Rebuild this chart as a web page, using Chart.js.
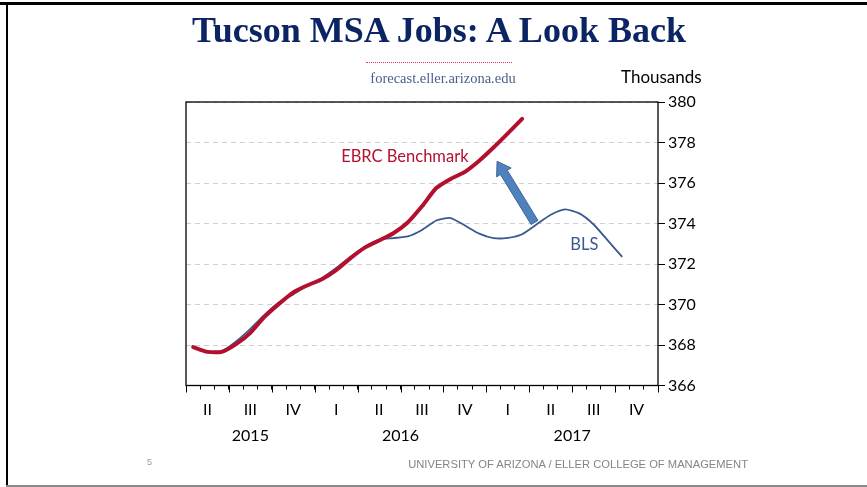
<!DOCTYPE html>
<html>
<head>
<meta charset="utf-8">
<script src="https://cdn.jsdelivr.net/npm/chart.js@4.4.1/dist/chart.umd.min.js"></script>
<style>
  html, body { margin:0; padding:0; background:#fff; }
  body { width:867px; height:487px; position:relative; overflow:hidden; }
  #c { position:absolute; left:0; top:0; }
  .abs { position:absolute; white-space:nowrap; }
  #title { left:0; width:878px; top:10px; text-align:center; font-family:"Liberation Serif","Times New Roman",serif; font-weight:bold; font-size:36px; line-height:40px; color:#0B2464; }
  #dots { left:366px; top:62px; width:146px; height:0; border-top:1px dotted #D0404F; }
  #sub { left:343px; width:200px; top:69px; text-align:center; font-family:"Liberation Serif",serif; font-size:14.5px; line-height:18px; color:#4B5F8A; }
  #units { left:621px; top:67px; font-family:Lato,"Open Sans",sans-serif; font-size:17px; line-height:20px; color:#000; }
  #pg { left:147px; top:457px; font-family:"Liberation Sans",Arial,sans-serif; font-size:9px; color:#9a9a9a; }
  #foot { right:119px; top:458px; font-family:"Liberation Sans",Arial,sans-serif; font-size:11.2px; color:#858585; }
  #bt { left:0; top:2px; width:867px; height:3px; background:#000; }
  #bl { left:6px; top:2px; width:2px; height:485px; background:#000; }
  #bb { left:6px; top:485px; width:861px; height:2px; background:#8a8a8a; }
</style>
</head>
<body>
<canvas id="c" width="867" height="487"></canvas>
<div class="abs" id="bt"></div>
<div class="abs" id="bl"></div>
<div class="abs" id="bb"></div>
<div class="abs" id="title">Tucson MSA Jobs: A Look Back</div>
<div class="abs" id="dots"></div>
<div class="abs" id="sub">forecast.eller.arizona.edu</div>
<div class="abs" id="units">Thousands</div>
<div class="abs" id="pg">5</div>
<div class="abs" id="foot">UNIVERSITY OF ARIZONA / ELLER COLLEGE OF MANAGEMENT</div>
<script>
// ---- data ----
const months = [
  'Apr 2015','May 2015','Jun 2015','Jul 2015','Aug 2015','Sep 2015','Oct 2015','Nov 2015','Dec 2015',
  'Jan 2016','Feb 2016','Mar 2016','Apr 2016','May 2016','Jun 2016','Jul 2016','Aug 2016','Sep 2016','Oct 2016','Nov 2016','Dec 2016',
  'Jan 2017','Feb 2017','Mar 2017','Apr 2017','May 2017','Jun 2017','Jul 2017','Aug 2017','Sep 2017','Oct 2017','Nov 2017','Dec 2017'
];
const quarterTicks = ['II','III','IV','I','II','III','IV','I','II','III','IV'];
const yearLabels = ['2015','2016','2017'];
const yearStartIdx = [0, 9, 21];
const ebrc = [367.90,367.66,367.66,368.04,368.60,369.40,370.03,370.60,370.95,371.25,371.70,372.29,
              372.81,373.16,373.52,374.05,374.85,375.75,376.20,376.55,377.10,377.75,378.45,379.17];
const bls  = [367.92,367.68,367.70,368.18,368.80,369.50,370.10,370.50,370.95,371.30,371.80,372.35,
              372.85,373.20,373.28,373.36,373.68,374.15,374.27,373.90,373.50,373.28,373.29,373.47,
              373.95,374.43,374.70,374.50,373.95,373.15,372.35];
const yMin = 366, yMax = 380, yStep = 2;
// annotations (data space)
const arrowTail = [23.87, 374.05];
const arrowTip  = [21.25, 377.07];
const notes = [
  {text:'EBRC Benchmark', at:[14.8, 377.3], color:'#B5102E'},
  {text:'BLS', at:[27.35, 372.95], color:'#3A5890'}
];

const RED = '#B3102D', BLUE = '#3A5890';
const sansFont = 'Lato, "Open Sans", sans-serif';

const decor = {
  id:'decor',
  afterDatasetsDraw(chart){
    const {ctx, scales:{x,y}} = chart;
    // arrow
    const tx = x.getPixelForValue(arrowTail[0]), ty = y.getPixelForValue(arrowTail[1]);
    const hx = x.getPixelForValue(arrowTip[0]),  hy = y.getPixelForValue(arrowTip[1]);
    const dx = hx-tx, dy = hy-ty, L = Math.hypot(dx,dy);
    const ux = dx/L, uy = dy/L, px = -uy, py = ux;
    const headL = 13, headW = 8.5, shaftW = 4;
    const bx = hx-ux*headL, by = hy-uy*headL;
    ctx.save();
    ctx.beginPath();
    ctx.moveTo(tx+px*shaftW, ty+py*shaftW);
    ctx.lineTo(bx+px*shaftW, by+py*shaftW);
    ctx.lineTo(bx+px*headW, by+py*headW);
    ctx.lineTo(hx, hy);
    ctx.lineTo(bx-px*headW, by-py*headW);
    ctx.lineTo(bx-px*shaftW, by-py*shaftW);
    ctx.lineTo(tx-px*shaftW, ty-py*shaftW);
    ctx.closePath();
    ctx.fillStyle = '#4F81BD';
    ctx.fill();
    ctx.strokeStyle = '#3A6496';
    ctx.lineWidth = 1;
    ctx.stroke();
    // notes
    ctx.font = '16.5px ' + sansFont;
    ctx.textAlign = 'center';
    ctx.textBaseline = 'middle';
    notes.forEach(n => {
      ctx.fillStyle = n.color;
      ctx.fillText(n.text, x.getPixelForValue(n.at[0]), y.getPixelForValue(n.at[1]));
    });
    ctx.restore();
  },
  afterDraw(chart){
    const {ctx, chartArea:a, scales:{x}} = chart;
    ctx.save();
    ctx.strokeStyle = '#000';
    ctx.lineWidth = 1.3;
    ctx.strokeRect(a.left, a.top, a.right-a.left, a.bottom-a.top);
    // quarter boundary ticks (longer)
    const step = (a.right-a.left)/months.length;
    ctx.lineWidth = 1;
    for (let i = 0; i <= months.length; i += 3) {
      const px = Math.round(a.left + i*step) + 0.5;
      ctx.beginPath(); ctx.moveTo(px, a.bottom); ctx.lineTo(px, a.bottom+7); ctx.stroke();
    }
    // year labels
    ctx.fillStyle = '#000';
    ctx.font = '16px ' + sansFont;
    ctx.textAlign = 'center';
    ctx.textBaseline = 'middle';
    yearLabels.forEach((yl, k) => {
      const s = yearStartIdx[k];
      const e = (k+1 < yearStartIdx.length ? yearStartIdx[k+1] : months.length) - 1;
      const cx = (x.getPixelForValue(s) + x.getPixelForValue(e)) / 2;
      ctx.fillText(yl, cx, 436);
    });
    ctx.restore();
  }
};

new Chart(document.getElementById('c'), {
  type:'line',
  data:{
    labels: months,
    datasets:[
      {label:'EBRC Benchmark', data: ebrc, borderColor: RED, borderWidth: 4, pointRadius: 0, tension: 0.2, order: 0, borderCapStyle:'round', borderJoinStyle:'round'},
      {label:'BLS', data: bls, borderColor: BLUE, borderWidth: 1.8, pointRadius: 0, tension: 0.2, order: 1}
    ]
  },
  options:{
    responsive:false,
    animation:false,
    devicePixelRatio:1,
    layout:{padding:{left:186, top:102, right:0, bottom:0}},
    plugins:{legend:{display:false}, tooltip:{enabled:false}},
    scales:{
      x:{
        type:'category',
        offset:true,
        grid:{offset:true, drawOnChartArea:false, drawTicks:true, tickLength:4, tickColor:'#000', tickWidth:1},
        border:{display:false},
        ticks:{
          autoSkip:false, maxRotation:0, minRotation:0, padding:11, color:'#000',
          font:{family:sansFont, size:16},
          callback:(v, i) => (i % 3 === 1) ? quarterTicks[(i-1)/3] : ''
        },
        afterFit(s){ s.height = 101.5; }
      },
      y:{
        position:'right',
        min:yMin, max:yMax,
        grid:{color:'#cfcfcf', lineWidth:1, tickColor:'#000', tickLength:7, tickWidth:1},
        border:{display:false, dash:[5,4]},
        ticks:{stepSize:yStep, padding:3, color:'#000', font:{family:sansFont, size:16}},
        afterFit(s){ s.width = 209; }
      }
    }
  },
  plugins:[decor]
});
</script>
</body>
</html>
